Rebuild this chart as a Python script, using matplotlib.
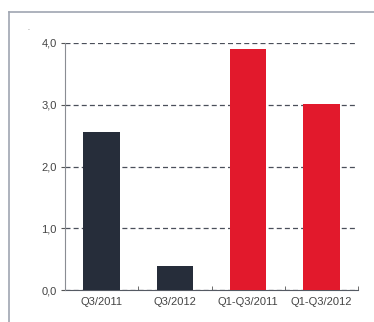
import matplotlib.pyplot as plt
from matplotlib.lines import Line2D

categories = ["Q3/2011", "Q3/2012", "Q1-Q3/2011", "Q1-Q3/2012"]
values = [2.56, 0.39, 3.90, 3.01]
colors = ["#262d3a", "#262d3a", "#e2192c", "#e2192c"]
yticks = [0.0, 1.0, 2.0, 3.0, 4.0]
ylabels = ["0,0", "1,0", "2,0", "3,0", "4,0"]

plt.rcParams['font.family'] = ['Liberation Sans', 'DejaVu Sans']

fig = plt.figure(figsize=(3.74, 3.22), dpi=100)
ax = fig.add_axes([65 / 374, 32 / 322, 293 / 374, 247 / 322])

x = range(len(categories))
ax.bar(x, values, width=0.5, color=colors, zorder=3)

ax.set_xlim(-0.5, 3.5)
ax.set_ylim(0, 4)
ax.set_yticks(yticks)
ax.set_yticklabels(ylabels)
ax.set_xticks(list(x))
ax.set_xticklabels(categories)
ax.set_xticks([0.5, 1.5, 2.5, 3.5], minor=True)

ax.tick_params(axis='x', which='major', length=0, pad=5, labelsize=8, labelcolor='#444444')
ax.tick_params(axis='x', which='minor', direction='in', length=3, color='#555555')
ax.tick_params(axis='y', length=3, color='#555555', pad=3, labelsize=8, labelcolor='#444444')

ax.yaxis.grid(True, linestyle=(0, (4, 2.5)), color='#4a4f5a', linewidth=0.9, zorder=1)
for s in ['top', 'right']:
    ax.spines[s].set_visible(False)
ax.spines['left'].set_color('#8a8d93')
ax.spines['bottom'].set_color('#555a63')
ax.spines['left'].set_zorder(4)

# outer frame (cropped at right and bottom)
fig.add_artist(Line2D([9 / 374, 9 / 374], [0, 1 - 12 / 322], color='#a0a6b2', lw=1.2))
fig.add_artist(Line2D([9 / 374, 1], [1 - 12 / 322, 1 - 12 / 322], color='#a0a6b2', lw=1.2))
fig.text(27 / 374, 1 - 30 / 322, '.', fontsize=5, color='#666666')

fig.savefig('out.png', dpi=100)
